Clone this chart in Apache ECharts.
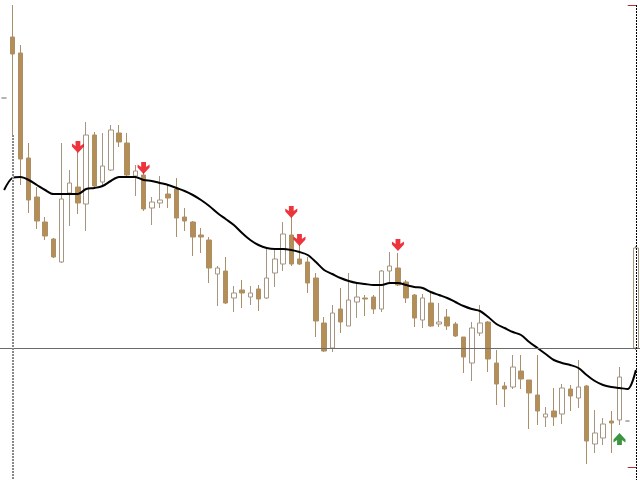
<!DOCTYPE html>
<html>
<head>
<meta charset="utf-8">
<script src="https://cdn.jsdelivr.net/npm/echarts@6/dist/echarts.min.js"></script>
<style>html,body{margin:0;padding:0;background:#fff;}#c{width:640px;height:480px;}</style>
</head>
<body>
<div id="c"></div>
<script>
// Bars: [open, close, low, high]
var bars = [
[1.3502,1.3502,1.3502,1.3502],
[1.3563,1.3546,1.3465,1.3595],
[1.3547,1.3441,1.3415,1.3555],
[1.3442,1.3400,1.3387,1.3457],
[1.3403,1.3379,1.3371,1.3413],
[1.3378,1.3364,1.3360,1.3383],
[1.3361,1.3343,1.3342,1.3362],
[1.3338,1.3401,1.3337,1.3457],
[1.3407,1.3417,1.3374,1.3430],
[1.3413,1.3397,1.3386,1.3448],
[1.3396,1.3465,1.3369,1.3478],
[1.3465,1.3414,1.3412,1.3468],
[1.3418,1.3434,1.3413,1.3467],
[1.3430,1.3470,1.3429,1.3475],
[1.3467,1.3458,1.3453,1.3475],
[1.3457,1.3425,1.3424,1.3467],
[1.3424,1.3429,1.3404,1.3435],
[1.3425,1.3391,1.3389,1.3428],
[1.3392,1.3398,1.3375,1.3403],
[1.3397,1.3400,1.3392,1.3424],
[1.3406,1.3402,1.3392,1.3415],
[1.3411,1.3382,1.3363,1.3422],
[1.3383,1.3379,1.3369,1.3392],
[1.3378,1.3363,1.3344,1.3379],
[1.3365,1.3363,1.3347,1.3372],
[1.3360,1.3332,1.3317,1.3363],
[1.3326,1.3332,1.3294,1.3334],
[1.3329,1.3297,1.3296,1.3343],
[1.3302,1.3307,1.3288,1.3314],
[1.3310,1.3307,1.3292,1.3320],
[1.3303,1.3307,1.3295,1.3314],
[1.3311,1.3301,1.3289,1.3315],
[1.3302,1.3322,1.3301,1.3352],
[1.3327,1.3341,1.3313,1.3350],
[1.3336,1.3366,1.3329,1.3378],
[1.3365,1.3336,1.3334,1.3383],
[1.3341,1.3336,1.3335,1.3355],
[1.3338,1.3317,1.3307,1.3343],
[1.3322,1.3279,1.3263,1.3327],
[1.3277,1.3249,1.3248,1.3283],
[1.3252,1.3287,1.3248,1.3295],
[1.3291,1.3278,1.3267,1.3312],
[1.3274,1.3300,1.3274,1.3327],
[1.3298,1.3303,1.3282,1.3317],
[1.3302,1.3301,1.3284,1.3305],
[1.3303,1.3291,1.3286,1.3305],
[1.3291,1.3329,1.3288,1.3330],
[1.3329,1.3334,1.3318,1.3348],
[1.3332,1.3315,1.3314,1.3347],
[1.3318,1.3302,1.3297,1.3320],
[1.3305,1.3282,1.3273,1.3306],
[1.3280,1.3302,1.3272,1.3306],
[1.3297,1.3274,1.3273,1.3307],
[1.3276,1.3278,1.3273,1.3297],
[1.3283,1.3274,1.3270,1.3291],
[1.3276,1.3264,1.3263,1.3278],
[1.3263,1.3243,1.3227,1.3263],
[1.3237,1.3272,1.3219,1.3278],
[1.3267,1.3277,1.3264,1.3295],
[1.3278,1.3241,1.3228,1.3279],
[1.3237,1.3216,1.3195,1.3250],
[1.3214,1.3211,1.3193,1.3218],
[1.3213,1.3233,1.3211,1.3245],
[1.3229,1.3221,1.3211,1.3245],
[1.3220,1.3207,1.3171,1.3220],
[1.3205,1.3189,1.3175,1.3245],
[1.3183,1.3186,1.3173,1.3193],
[1.3189,1.3183,1.3174,1.3212],
[1.3186,1.3212,1.3176,1.3216],
[1.3211,1.3204,1.3189,1.3215],
[1.3202,1.3213,1.3192,1.3240],
[1.3214,1.3159,1.3136,1.3215],
[1.3156,1.3167,1.3147,1.3190],
[1.3162,1.3176,1.3155,1.3182],
[1.3179,1.3177,1.3147,1.3189],
[1.3180,1.3223,1.3175,1.3233],
[1.3179,1.3179,1.3179,1.3179],
[1.3252,1.3352,1.3250,1.3354]
];
var maValues = [
1.3410,1.3422,1.3423,1.3420,1.3415,1.3410,1.3406,1.3406,1.3406,1.3406,
1.3411,1.3412,1.3414,1.3419,1.3423,1.3423,1.3423,1.3420,1.3419,1.3417,
1.3415,1.3412,1.3409,1.3405,1.3400,1.3394,1.3387,1.3381,1.3375,1.3367,
1.3360,1.3355,1.3352,1.3351,1.3351,1.3350,1.3348,1.3345,1.3338,1.3330,
1.3326,1.3322,1.3319,1.3317,1.3316,1.3315,1.3315,1.3317,1.3317,1.3315,
1.3313,1.3312,1.3308,1.3305,1.3302,1.3298,1.3294,1.3291,1.3289,1.3283,
1.3276,1.3272,1.3268,1.3265,1.3258,1.3252,1.3246,1.3240,1.3237,1.3235,
1.3232,1.3225,1.3219,1.3215,1.3213,1.3212,1.3211,1.3230
];
var sellSignals = [[9,1.3453],[17,1.3432],[35,1.3388],[36,1.3360],[48,1.3355]];
var buySignals = [[75,1.3161]];
var levelLine = 1.3252;
var separatorBar = 1;
var currentBar = 77;
var markerDot = [[76,1.3170]];
var yMin = 1.3120, yMax = 1.3600;

var categories = bars.map(function(_, i){ return String(i); });

var chart = echarts.init(document.getElementById('c'), null, {renderer:'canvas'});
var downArrow = 'path://M3.6,0 L8.4,0 L8.4,5 L12,2.6 L12,5.6 L6,12 L0,5.6 L0,2.6 L3.6,5 Z';
var upArrow = 'path://M3.6,12 L8.4,12 L8.4,7 L12,9.4 L12,6.4 L6,0 L0,6.4 L0,9.4 L3.6,7 Z';
chart.setOption({
  animation: false,
  backgroundColor: '#ffffff',
  grid: {left: -0.4, right: -3.6, top: 0, bottom: 0, containLabel: false},
  xAxis: {type: 'category', data: categories, boundaryGap: true, show: false},
  yAxis: {type: 'value', min: yMin, max: yMax, show: false, scale: true},
  series: [
    {
      type: 'line', z: 1, data: [], silent: true,
      markLine: {
        silent: true, symbol: 'none', label: {show: false}, animation: false,
        data: [
          [{coord: [0, levelLine], x: 0}, {coord: [currentBar, levelLine], x: 640}],
          [{coord: [separatorBar, 1.3465], lineStyle:{color:'#8a8a8a', width:2, type:[2,1]}}, {coord: [separatorBar, yMin]}],
          [{coord: [currentBar, 1.3595], lineStyle:{color:'#000', width:1, type:[2,1]}}, {coord: [currentBar, yMin]}],
          [{coord: [currentBar-1, 1.3595], lineStyle:{color:'#b03030', width:1, type:'solid'}}, {coord: [currentBar, 1.3595]}],
          [{coord: [currentBar-1, 1.3133], lineStyle:{color:'#b03030', width:1, type:'solid'}}, {coord: [currentBar, 1.3133]}]
        ],
        lineStyle: {color: '#6a6a6a', width: 1, type: 'solid'}
      }
    },
    {
      type: 'candlestick', z: 2, data: bars, barWidth: 5,
      itemStyle: {
        color: '#ffffff', color0: '#b58e56',
        borderColor: '#a49682', borderColor0: '#ab8f68',
        borderColorDoji: '#9a9a9a', borderWidth: 1
      },
      emphasis: {disabled: true}
    },
    {
      type: 'line', z: 3, data: maValues, symbol: 'none', smooth: 0.3,
      lineStyle: {color: '#000000', width: 2}, silent: true
    },
    {
      type: 'scatter', z: 4, data: sellSignals, symbol: downArrow, symbolSize: [12, 12],
      itemStyle: {color: '#e8000b'}, silent: true
    },
    {
      type: 'scatter', z: 4, data: buySignals, symbol: upArrow, symbolSize: [12, 12],
      itemStyle: {color: '#0a7a10'}, silent: true
    },
    {
      type: 'scatter', z: 4, data: markerDot, symbol: 'emptyCircle', symbolSize: 5,
      itemStyle: {color: '#ffffff', borderColor: '#a0a0a0', borderWidth: 1}, silent: true
    }
  ]
});
</script>
</body>
</html>
